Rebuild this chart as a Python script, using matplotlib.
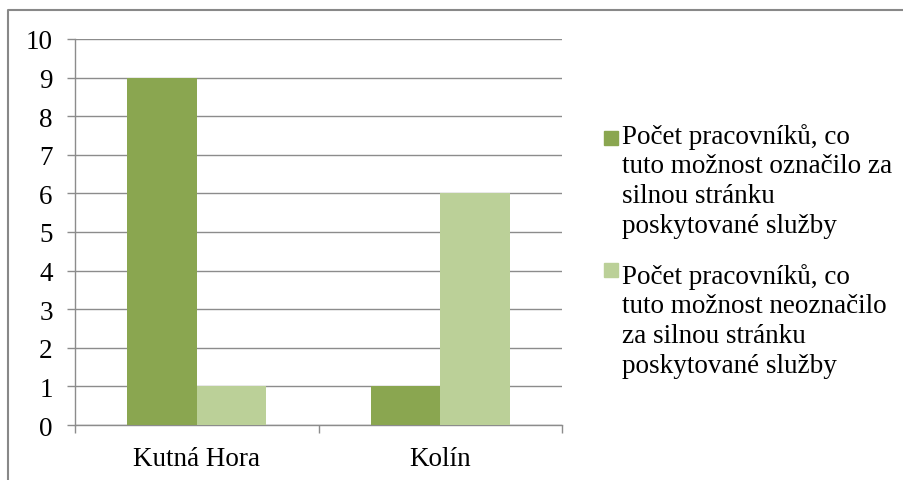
import matplotlib.pyplot as plt
import numpy as np
from matplotlib.patches import Rectangle
from matplotlib.lines import Line2D

# Data
categories = ['Kutná Hora', 'Kolín']
oznacilo = [9, 1]
neoznacilo = [1, 6]
labels = ['Počet pracovníků, co\ntuto možnost označilo za\nsilnou stránku\nposkytované služby',
          'Počet pracovníků, co\ntuto možnost neoznačilo\nza silnou stránku\nposkytované služby']
colors = ['#8AA650', '#BBD098']

plt.rcParams['font.family'] = ['Liberation Serif', 'DejaVu Serif']
FS = 19.5

fig = plt.figure(figsize=(9.04, 4.81), dpi=100)
ax = fig.add_axes([75/904, 1 - 426/481, (562 - 75)/904, (426 - 40)/481])

x = np.arange(len(categories))
w = 0.286
ax.bar(x - w/2, oznacilo, w, color=colors[0], zorder=3)
ax.bar(x + w/2, neoznacilo, w, color=colors[1], zorder=3)

ax.set_xlim(-0.5, len(categories) - 0.5)
ax.set_ylim(0, 10)
ax.set_yticks(range(0, 11))
ax.yaxis.grid(True, color='#8c8c8c', linewidth=1.0, zorder=0)
ax.set_axisbelow(True)

ax.set_xticks(x)
ax.set_xticklabels(categories, fontsize=FS)
ax.set_xticks(np.arange(-0.5, len(categories)), minor=True)
ax.tick_params(axis='x', which='major', length=0, pad=15)
ax.tick_params(axis='x', which='minor', length=6, color='#8c8c8c', width=1)
ax.tick_params(axis='y', length=6, color='#8c8c8c', width=1, labelsize=FS, pad=10)

for s in ['top', 'right']:
    ax.spines[s].set_visible(False)
for s in ['left', 'bottom']:
    ax.spines[s].set_color('#8c8c8c')
    ax.spines[s].set_linewidth(1)

# legend drawn by hand so the marker sits on the first line
W, H = 904, 481
tops = [124, 264]
sq_tops = [132, 264]
for lab, col, top, sq in zip(labels, colors, tops, sq_tops):
    fig.patches.append(Rectangle((604/W, 1 - (sq + 14)/H), 14/W, 14/H,
                                 transform=fig.transFigure, color=col))
    fig.text(622/W, 1 - top/H, lab, fontsize=FS, va='top', ha='left',
             linespacing=1.24)

# outer chart border (only top and left edge are inside the picture)
fig.lines.append(Line2D([8/W, 8/W, 1], [0, 1 - 11/H, 1 - 11/H],
                        transform=fig.transFigure, color='#888888', linewidth=1.5))

fig.savefig('out.png', dpi=100)
